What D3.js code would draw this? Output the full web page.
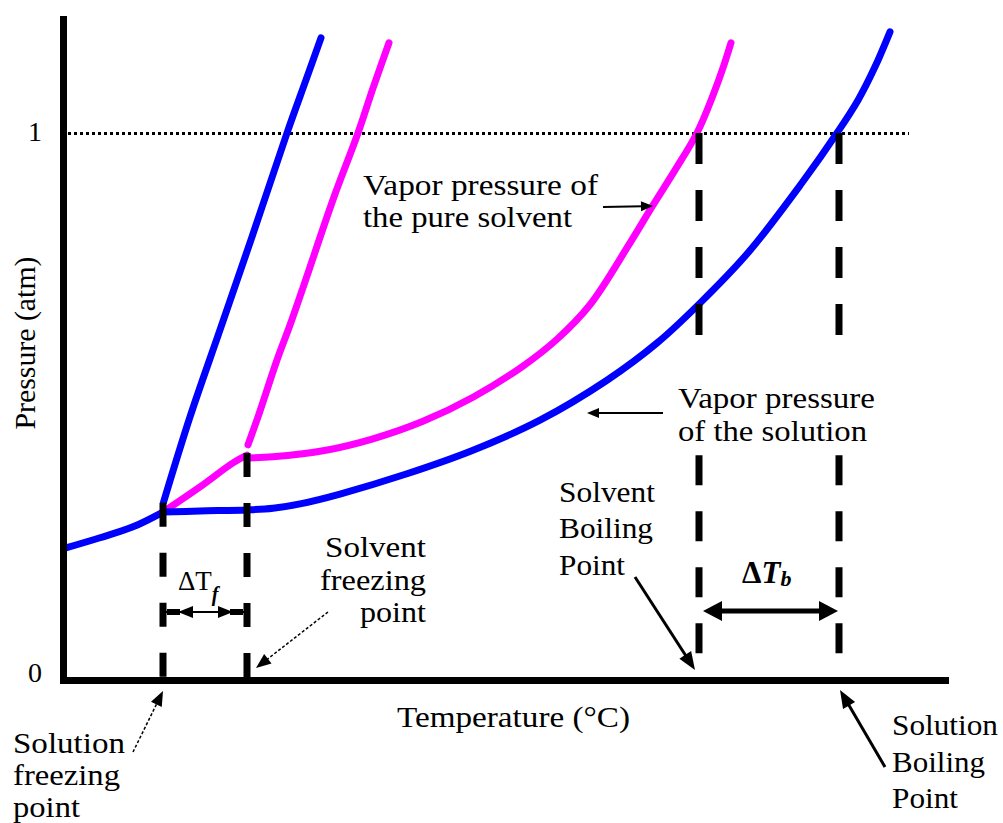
<!DOCTYPE html>
<html><head><meta charset="utf-8">
<script src="https://cdn.jsdelivr.net/npm/d3@7"></script>
<style>
body{margin:0;background:#fff}
svg{display:block}
svg text{font-family:'Liberation Serif','DejaVu Serif','Times New Roman',Times,serif;fill:#000}
</style>
</head><body>
<svg id="c" width="1003" height="823"></svg>
<script>
// ---------- data (temperature in arbitrary units, pressure in atm) ----------
const solidVaporT   = [0.2, 7.2, 13.8, 19.8];
const solidVaporP   = [0.241, 0.260, 0.280, 0.307];
const solventSolidT = [19.8, 27.2, 33.8, 36.6];
const solventSolidP = [0.307, 0.353, 0.397, 0.411];
const solventLiquidT = [36.6,41.8,51.8,61.8,71.8,81.8,91.8,98.6,105.2,112.8,117.8,122.2,126.6,129.8,131.8,133.4];
const solventLiquidP = [0.406,0.408,0.419,0.441,0.473,0.517,0.574,0.623,0.686,0.793,0.868,0.932,1.0,1.069,1.119,1.165];
const solutionLiquidT = [19.8,27.2,36.6,41.8,47.2,55.2,68.6,81.8,95.2,108.6,118.6,127.2,136.8,147.6,154.6,158.8,162.2,165.2];
const solutionLiquidP = [0.307,0.309,0.311,0.314,0.322,0.340,0.377,0.420,0.475,0.548,0.616,0.689,0.781,0.909,1.0,1.060,1.121,1.185];
const solutionMeltT = [19.9,25.2,31.2,37.6,44.6,48.4,51.4];
const solutionMeltP = [0.325,0.481,0.640,0.810,1.0,1.097,1.174];
const solventMeltT  = [36.8,38.8,42.6,45.2,48.2,53.8,58.8,61.8,65.0];
const solventMeltP  = [0.430,0.481,0.585,0.649,0.728,0.878,1.0,1.082,1.165];
const freezePoints = [19.8, 36.6];          // solution, solvent
const freezeTopP   = [0.324, 0.415];
const boilPoints   = [127, 155];            // solvent, solution
const yTickValues  = [0, 1];
const yTickLabels  = ["0", "1"];

// ---------- scales ----------
const svg = d3.select("#c");
const FONT = "'Liberation Serif','DejaVu Serif','Times New Roman',Times,serif";
const x = d3.scaleLinear().domain([0, 177]).range([64, 949]);
const y = d3.scaleLinear().domain([0, 1]).range([680, 133]);
const zip = (a, b) => a.map((v, i) => [v, b[i]]);
const line = d3.line().x(d => x(d[0])).y(d => y(d[1])).curve(d3.curveCatmullRom.alpha(0.5));

const BLUE = "#0000ff", PINK = "#ff00ff";

// dotted 1 atm line
svg.append("line").attr("x1", x(0.8)).attr("x2", x(169)).attr("y1", y(1) + 0.5).attr("y2", y(1) + 0.5)
  .attr("stroke", "#000").attr("stroke-width", 3).attr("stroke-dasharray", "3,3");

// curves
const curves = [
  [solidVaporT, solidVaporP, BLUE],
  [solventSolidT, solventSolidP, PINK],
  [solventLiquidT, solventLiquidP, PINK],
  [solventMeltT, solventMeltP, PINK],
  [solutionLiquidT, solutionLiquidP, BLUE],
  [solutionMeltT, solutionMeltP, BLUE]
];
curves.forEach(([t, p, c]) => {
  svg.append("path").attr("d", line(zip(t, p))).attr("fill", "none")
    .attr("stroke", c).attr("stroke-width", 7).attr("stroke-linecap", "round").attr("stroke-linejoin", "round");
});

// dashed freezing lines
freezePoints.forEach((t, i) => {
  svg.append("line").attr("x1", x(t)).attr("x2", x(t)).attr("y1", y(freezeTopP[i])).attr("y2", y(0))
    .attr("stroke", "#000").attr("stroke-width", 7).attr("stroke-dasharray", "24,26");
});
// dashed boiling lines (interrupted by label)
boilPoints.forEach(t => {
  svg.append("line").attr("x1", x(t)).attr("x2", x(t)).attr("y1", y(1)).attr("y2", y(0.585))
    .attr("stroke", "#000").attr("stroke-width", 7).attr("stroke-dasharray", "31,26");
  svg.append("line").attr("x1", x(t)).attr("x2", x(t)).attr("y1", y(0.411)).attr("y2", y(0.049))
    .attr("stroke", "#000").attr("stroke-width", 7).attr("stroke-dasharray", "30,26");
});

// axes
svg.append("line").attr("x1", 63.5).attr("x2", 63.5).attr("y1", y(1.214)).attr("y2", 684)
  .attr("stroke", "#000").attr("stroke-width", 7);
svg.append("line").attr("x1", 60).attr("x2", x(177)).attr("y1", 680.5).attr("y2", 680.5)
  .attr("stroke", "#000").attr("stroke-width", 7);
const yAxis = d3.axisLeft(y).tickValues(yTickValues).tickFormat((d, i) => yTickLabels[i]).tickSize(0).tickPadding(0);
const ga = svg.append("g").attr("transform", "translate(42,0)").call(yAxis);
ga.select(".domain").remove();
ga.attr("font-family", FONT);
ga.selectAll("text").style("font-family", FONT).attr("font-size", 28).attr("dy", null)
  .attr("y", (d) => d === 1 ? 7 : 1);

// ---------- helpers ----------
function arrow(x1, y1, x2, y2, o) {
  const dx = x2 - x1, dy = y2 - y1, L = Math.hypot(dx, dy), ux = dx / L, uy = dy / L;
  const bx = x2 - ux * o.hl, by = y2 - uy * o.hl;
  const l = svg.append("line").attr("x1", x1).attr("y1", y1).attr("x2", bx + ux * 2).attr("y2", by + uy * 2)
    .attr("stroke", "#000").attr("stroke-width", o.w);
  if (o.dash) l.attr("stroke-dasharray", o.dash);
  const px = -uy, py = ux;
  svg.append("path").attr("d", `M${x2},${y2}L${bx + px * o.hw},${by + py * o.hw}L${bx - px * o.hw},${by - py * o.hw}Z`)
    .attr("fill", "#000");
}
function label(lines, x0, ys, size, lens, anchor) {
  lines.forEach((s, i) => {
    const t = svg.append("text").attr("x", x0).attr("y", ys[i]).attr("font-size", size)
      .style("font-family", FONT).text(s);
    if (anchor) t.attr("text-anchor", anchor);
    if (lens && lens[i]) t.attr("textLength", lens[i]).attr("lengthAdjust", "spacingAndGlyphs");
  });
}

// ---------- labels ----------
label(["Vapor pressure of", "the pure solvent"], 363, [195, 227], 30, [235, 209]);
arrow(603, 207, 653, 206, {w: 2, hl: 12, hw: 5});

label(["Vapor pressure", "of the solution"], 678, [408, 441], 30, [197, 189]);
arrow(663, 413, 587, 413, {w: 2, hl: 12, hw: 5});

label(["Solvent", "freezing", "point"], 426, [557, 590, 622], 30, [101, 106, 66], "end");
arrow(328, 612, 256, 668, {w: 1.5, hl: 15, hw: 6, dash: "3,2"});

label(["Solution", "freezing", "point"], 13, [753, 785, 817], 30, [112, 107, 67]);
arrow(133, 752, 163, 691, {w: 1.5, hl: 15, hw: 6, dash: "3,2"});

label(["Temperature (°C)"], 397, [727], 30, [233]);

svg.append("text").attr("transform", "translate(35,343) rotate(-90)").attr("text-anchor", "middle")
  .style("font-family", FONT)
  .attr("font-size", 30).attr("textLength", 173).attr("lengthAdjust", "spacingAndGlyphs").text("Pressure (atm)");

label(["Solvent", "Boiling", "Point"], 559, [502, 538, 575], 30, [96, 94, 66]);
arrow(635, 577, 695, 670, {w: 3, hl: 18, hw: 7});

label(["Solution", "Boiling", "Point"], 892, [735, 772, 808], 30, [106, 93, 66]);
arrow(885, 767, 840, 690, {w: 3, hl: 18, hw: 7});

// Delta Tf
const tf = svg.append("text").attr("x", 178).attr("y", 590).attr("font-size", 27).style("font-family", FONT);
tf.append("tspan").text("ΔT");
tf.append("tspan").attr("font-style", "italic").attr("font-weight", "bold").attr("font-size", 20).attr("dy", 11).text("f");
const yf = 612;
svg.append("line").attr("x1", x(freezePoints[0]) + 3).attr("x2", x(freezePoints[1]) - 3).attr("y1", yf).attr("y2", yf)
  .attr("stroke", "#000").attr("stroke-width", 2);
svg.append("line").attr("x1", 167).attr("x2", 180).attr("y1", yf).attr("y2", yf).attr("stroke", "#000").attr("stroke-width", 6);
svg.append("line").attr("x1", 230).attr("x2", 243).attr("y1", yf).attr("y2", yf).attr("stroke", "#000").attr("stroke-width", 6);
svg.append("path").attr("d", `M178,${yf}L193,${yf - 6}L193,${yf + 6}Z`).attr("fill", "#000");
svg.append("path").attr("d", `M233,${yf}L218,${yf - 6}L218,${yf + 6}Z`).attr("fill", "#000");

// Delta Tb
const tb = svg.append("text").attr("x", 742).attr("y", 583).attr("font-size", 31).attr("font-weight", "bold").style("font-family", FONT);
tb.append("tspan").text("Δ");
tb.append("tspan").attr("font-style", "italic").text("T");
tb.append("tspan").attr("font-style", "italic").attr("font-size", 22).attr("dy", 3).text("b");
const yb = 611;
svg.append("line").attr("x1", x(boilPoints[0]) + 20).attr("x2", x(boilPoints[1]) - 20).attr("y1", yb).attr("y2", yb)
  .attr("stroke", "#000").attr("stroke-width", 5);
svg.append("path").attr("d", `M${x(boilPoints[0]) + 4},${yb}L${x(boilPoints[0]) + 23},${yb - 10}L${x(boilPoints[0]) + 23},${yb + 10}Z`).attr("fill", "#000");
svg.append("path").attr("d", `M${x(boilPoints[1]) - 1},${yb}L${x(boilPoints[1]) - 20},${yb - 10}L${x(boilPoints[1]) - 20},${yb + 10}Z`).attr("fill", "#000");
</script>
</body></html>
